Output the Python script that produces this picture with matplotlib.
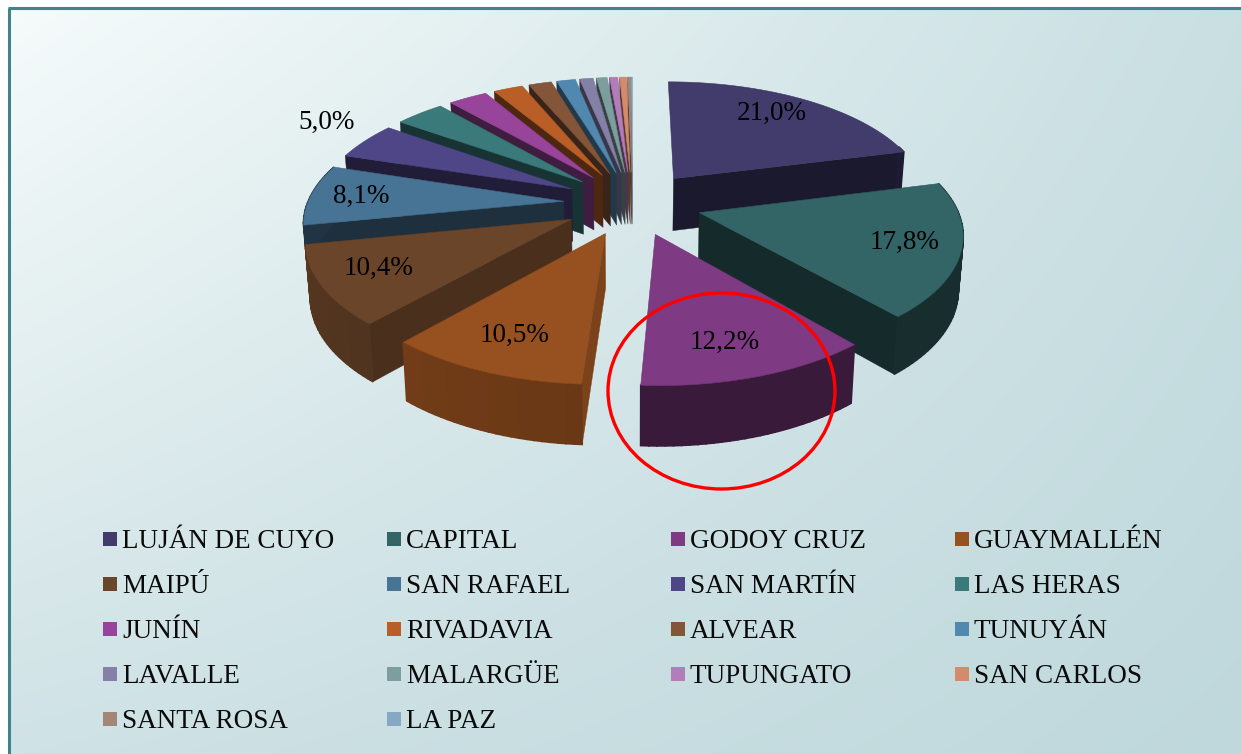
import numpy as np
import matplotlib
matplotlib.use("Agg")
import matplotlib.pyplot as plt
from matplotlib.patches import Polygon, Ellipse, Rectangle
from matplotlib.colors import to_rgb

names = ["LUJÁN DE CUYO", "CAPITAL", "GODOY CRUZ", "GUAYMALLÉN", "MAIPÚ", "SAN RAFAEL",
         "SAN MARTÍN", "LAS HERAS", "JUNÍN", "RIVADAVIA", "ALVEAR", "TUNUYÁN",
         "LAVALLE", "MALARGÜE", "TUPUNGATO", "SAN CARLOS", "SANTA ROSA", "LA PAZ"]
values = [21.0, 17.8, 12.2, 10.5, 10.4, 8.1, 5.0, 3.7, 2.9, 2.2, 1.7, 1.4, 1.0, 0.8, 0.6, 0.5, 0.2, 0.1]
colors = ["#413C6C", "#336466", "#7F3A84", "#97501F", "#6B4529", "#477394",
          "#4F4688", "#3A7A7A", "#97449A", "#B85E26", "#85553A", "#5088AF",
          "#8580A8", "#7C9E9E", "#B37CBA", "#D48A6B", "#A48676", "#85A8C4"]
labelled = ["21,0%", "17,8%", "12,2%", "10,5%", "10,4%", "8,1%", "5,0%"]

W, H = 1241, 754
CX, CY, A, B, C, EXPL = 632.5, 203.0, 256.0, 118.0, 0.15, 0.27
plt.rcParams["font.family"] = ["Liberation Serif", "DejaVu Serif"]

fig = plt.figure(figsize=(W / 100, H / 100), dpi=100, facecolor="white")
ax = fig.add_axes([0, 0, 1, 1])
ax.axis("off")

# background
yy, xx = np.mgrid[0:1:200j, 0:1:330j]
tl, tr, bl, br = [np.array(to_rgb(c)) for c in ("#F6FBFB", "#C9DFE2", "#CFE2E5", "#BFD8DC")]
grad = ((1 - xx)[..., None] * (1 - yy)[..., None] * tl + xx[..., None] * (1 - yy)[..., None] * tr
        + (1 - xx)[..., None] * yy[..., None] * bl + xx[..., None] * yy[..., None] * br)
ax.imshow(grad, extent=(9, W + 5, H + 5, 8), aspect="auto", zorder=0, interpolation="bilinear")
ax.set_xlim(0, W)
ax.set_ylim(H, 0)
ax.plot([9, 9], [H, 8], color="#3F8488", lw=2.2, zorder=1, solid_capstyle="butt")
ax.plot([8, W], [8, 8], color="#3F8488", lw=2.2, zorder=1, solid_capstyle="butt")


def project(u, v):
    d = 1 - C * v
    return CX + A * u / d, CY + B * v / d


def drop(x, y):
    t = 52 + 0.04 * (y - 178)
    return CX + (x - CX) * 0.985, y + t


def shade(col, f):
    return tuple(np.clip(np.array(to_rgb(col)) * f, 0, 1))


def rim_factor(t):
    return 0.70 + 0.10 * (t - np.pi) / (0.44 * np.pi)


fr = np.array(values) / np.sum(values)
edges = np.concatenate([[0], np.cumsum(fr)]) * 2 * np.pi
mids = (edges[:-1] + edges[1:]) / 2
order = np.argsort(-np.cos(mids))
z = 2.0
for i in order:
    t1, t2, m = edges[i], edges[i + 1], mids[i]
    lit = np.pi <= t1 < 1.3 * np.pi
    u0, v0 = EXPL * np.sin(m), -EXPL * np.cos(m)
    th = np.linspace(t1, t2, max(int((t2 - t1) * 40), 3))
    rx, ry = project(u0 + np.sin(th), v0 - np.cos(th))
    tipx, tipy = project(u0, v0)
    bx, by = drop(rx, ry)
    btx, bty = drop(tipx, tipy)
    col = colors[i]
    # radial walls
    if t2 < np.pi:
        c = shade(col, 0.42)
        q = [(tipx, tipy), (rx[-1], ry[-1]), (bx[-1], by[-1]), (btx, bty)]
        ax.add_patch(Polygon(q, fc=c, ec=c, lw=0.3, zorder=z))
    if t1 >= np.pi:
        f = 0.82 if t1 < 1.1 * np.pi else (0.68 if lit else 0.42)
        c = shade(col, f)
        q = [(tipx, tipy), (rx[0], ry[0]), (bx[0], by[0]), (btx, bty)]
        ax.add_patch(Polygon(q, fc=c, ec=c, lw=0.3, zorder=z))
    z += 0.01
    # outer rim, only the part that faces the viewer, in narrow strips
    for k in range(len(th) - 1):
        if np.cos(th[k]) > 0.3:
            continue
        c = shade(col, rim_factor(th[k]) if lit else 0.45)
        q = [(rx[k], ry[k]), (rx[k + 1], ry[k + 1]), (bx[k + 1], by[k + 1]), (bx[k], by[k])]
        ax.add_patch(Polygon(q, fc=c, ec=c, lw=1.2, zorder=z))
    z += 0.01
    top = np.vstack([[tipx, tipy], np.column_stack([rx, ry])])
    ax.add_patch(Polygon(top, fc=col, ec=shade(col, 0.9), lw=0.4, zorder=z))
    z += 0.01

# percent labels placed by polar position inside the exploded slice
lab_r = [0.78, 0.79, 0.78, 0.77, 0.78, 0.80, 1.26]
lab_da = [-2.0, 0.0, 1.5, 0.0, 1.0, 0.0, 3.0]
for i, s in enumerate(labelled):
    m = mids[i] + np.radians(lab_da[i])
    u = (EXPL + lab_r[i]) * np.sin(m)
    v = -(EXPL + lab_r[i]) * np.cos(m)
    x, y = project(u, v)
    ax.text(x, y, s, fontsize=19.5, ha="center", va="center", color="black", zorder=20)

# highlight ring
ax.add_patch(Ellipse((721.5, 391), 227, 196, fill=False, ec="#FF0000", lw=2.4, zorder=21))

# legend
for i, (n, c) in enumerate(zip(names, colors)):
    col_i, row_i = i % 4, i // 4
    x0 = 103 + 284 * col_i
    y0 = 539 + 45 * row_i
    ax.add_patch(Rectangle((x0, y0 - 7), 14, 14, fc=c, ec="none", zorder=5))
    ax.text(x0 + 19, y0 - 0.5, n, fontsize=19.5, ha="left", va="center_baseline", color="#0A0A0A", zorder=5)

fig.savefig("out.png", dpi=100)
